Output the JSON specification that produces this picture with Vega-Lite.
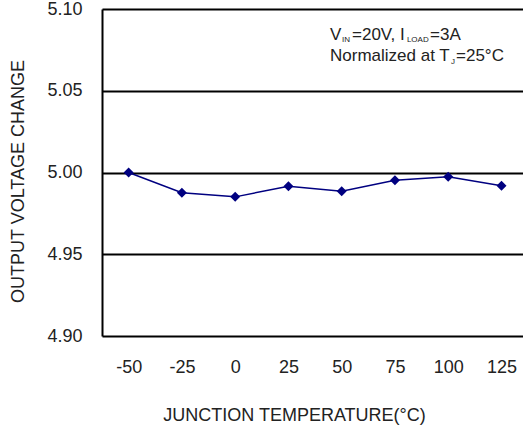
{
  "$schema": "https://vega.github.io/schema/vega-lite/v6.json",
  "autosize": {"type": "none"},
  "padding": {"left": 102, "top": 9, "right": 0, "bottom": 91},
  "width": 421,
  "height": 327,
  "background": "white",
  "config": {
    "view": {"stroke": null},
    "font": "Liberation Sans"
  },
  "datasets": {
    "pts": [
      {"t": -50, "v": 5.000},
      {"t": -25, "v": 4.9876},
      {"t": 0, "v": 4.9851},
      {"t": 25, "v": 4.9916},
      {"t": 50, "v": 4.9886},
      {"t": 75, "v": 4.9953},
      {"t": 100, "v": 4.9974},
      {"t": 125, "v": 4.9919}
    ],
    "main": [
      {"x": 44.52, "y": 5.0812, "label": "V"},
      {"x": 54.84, "y": 5.0812, "label": "=20V, I"},
      {"x": 91.5, "y": 5.0812, "label": "=3A"},
      {"x": 44.52, "y": 5.0681, "label": "Normalized at T"},
      {"x": 103.66, "y": 5.0681, "label": "=25°C"}
    ],
    "subs": [
      {"x": 50.15, "y": 5.0800, "label": "IN"},
      {"x": 80.6, "y": 5.0800, "label": "LOAD"},
      {"x": 101.31, "y": 5.0666, "label": "J"}
    ]
  },
  "layer": [
    {
      "data": {"name": "pts"},
      "mark": {"type": "line", "color": "#000080", "strokeWidth": 1.5, "point": {"shape": "diamond", "size": 100, "color": "#000080", "filled": true}},
      "encoding": {
        "x": {
          "field": "t", "type": "quantitative",
          "scale": {"domain": [-62.5, 135.1], "nice": false, "zero": false},
          "axis": {
            "values": [-50, -25, 0, 25, 50, 75, 100, 125],
            "labelExpr": "datum.value + ''",
            "grid": false, "domain": false, "ticks": false,
            "labelPadding": 22, "labelFontSize": 18, "labelColor": "#222",
            "title": "JUNCTION TEMPERATURE(°C)",
            "titleFontSize": 18, "titleFontWeight": "normal", "titleColor": "#222",
            "titleX": 192, "titleY": 79, "titleBaseline": "middle"
          }
        },
        "y": {
          "field": "v", "type": "quantitative",
          "scale": {"domain": [4.9, 5.1], "nice": false, "zero": false},
          "axis": {
            "values": [4.9, 4.95, 5.0, 5.05, 5.1], "format": ".2f",
            "grid": true, "gridColor": "#000", "gridWidth": 2, "gridOpacity": 1,
            "domain": true, "domainColor": "#000", "domainWidth": 2,
            "ticks": false, "labelPadding": 20, "labelFontSize": 18, "labelColor": "#222",
            "title": "OUTPUT VOLTAGE CHANGE",
            "titleFontSize": 18, "titleFontWeight": "normal", "titleColor": "#222",
            "titleX": -84, "titleY": 172, "titleBaseline": "middle", "titleAngle": -90
          }
        }
      }
    },
    {
      "data": {"name": "main"},
      "mark": {"type": "text", "align": "left", "baseline": "alphabetic", "fontSize": 17, "color": "#222"},
      "encoding": {
        "x": {"field": "x", "type": "quantitative"},
        "y": {"field": "y", "type": "quantitative"},
        "text": {"field": "label"}
      }
    },
    {
      "data": {"name": "subs"},
      "mark": {"type": "text", "align": "left", "baseline": "alphabetic", "fontSize": 8, "color": "#222"},
      "encoding": {
        "x": {"field": "x", "type": "quantitative"},
        "y": {"field": "y", "type": "quantitative"},
        "text": {"field": "label"}
      }
    }
  ]
}
